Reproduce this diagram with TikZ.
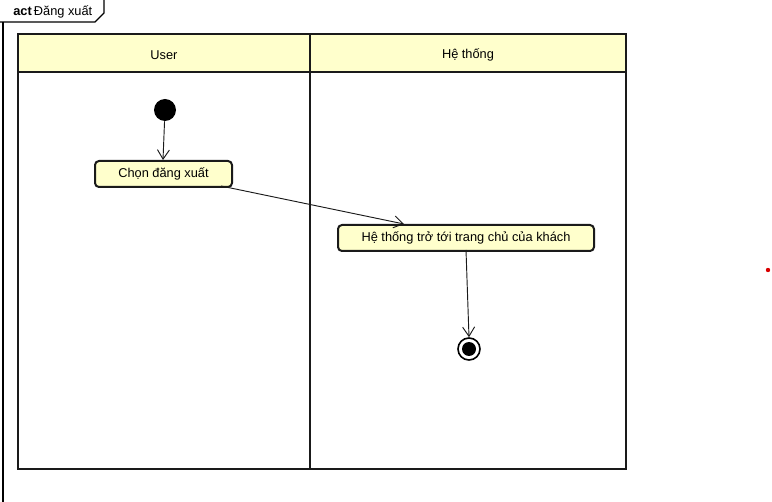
\documentclass[tikz,border=0pt]{standalone}
\usepackage{fontspec}
\setmainfont{Liberation Sans}
\usetikzlibrary{arrows.meta}
\definecolor{laneyellow}{HTML}{FFFFCC}
\definecolor{actfill}{HTML}{FFFFCC}
\definecolor{edge}{HTML}{1A1A1A}
\begin{document}
\begin{tikzpicture}[x=0.75pt,y=-0.75pt,
  every node/.style={font=\fontsize{9.6}{11.5}\selectfont},
  lane/.style={draw=edge,line width=2pt},
  action/.style={draw=edge,fill=actfill,line width=1.5pt,rounded corners=3pt,
    minimum height=19.5pt,inner sep=0pt,anchor=north west},
  flow/.style={draw=edge,line width=0.7pt,-{Straight Barb[length=7pt,width=9pt,line width=0.7pt]}}]
\useasboundingbox (0,0) rectangle (772,502);
% frame with its name tab
\draw[line width=0.8pt] (0,22) -- (95,22) -- (104,13) -- (104,0);
\draw[line width=0.8pt] (3,22) -- (3,502);
\node[anchor=base west,inner sep=0] (frametitle) at (13,16) {\textbf{act}\,Đăng xuất};
% swimlanes
\fill[laneyellow] (18,34) rectangle (626,72);
\draw[lane] (18,34) rectangle (626,469);
\draw[lane] (18,72) -- (626,72);
\draw[lane] (310,34) -- (310,469);
\node (laneuser) at (164,55) {User};
\node (lanesys) at (468,55) {Hệ thống};
% nodes
\node[circle,fill=black,minimum size=16.5pt,inner sep=0] (start) at (165,110) {};
\node[action,minimum width=102.75pt] (choose) at (94,160) {Chọn đăng xuất};
\node[action,minimum width=192pt] (home) at (337,224) {Hệ thống trở tới trang chủ của khách};
\node[circle,draw=black,line width=1.2pt,minimum size=16.5pt,inner sep=0] (final) at (469,349) {};
\fill[black] (final.center) circle (7);
% flows
\coordinate (chooseout) at (221,186);
\coordinate (homein) at (404,224);
\coordinate (homeout) at (466,250);
\draw[flow] (start) -- (163,160);
\draw[flow] (chooseout) -- (homein);
\draw[flow] (homeout) -- (final.north);
% stray marker
\fill[red!85!black] (768,270) circle (2.2);
\end{tikzpicture}
\end{document}
